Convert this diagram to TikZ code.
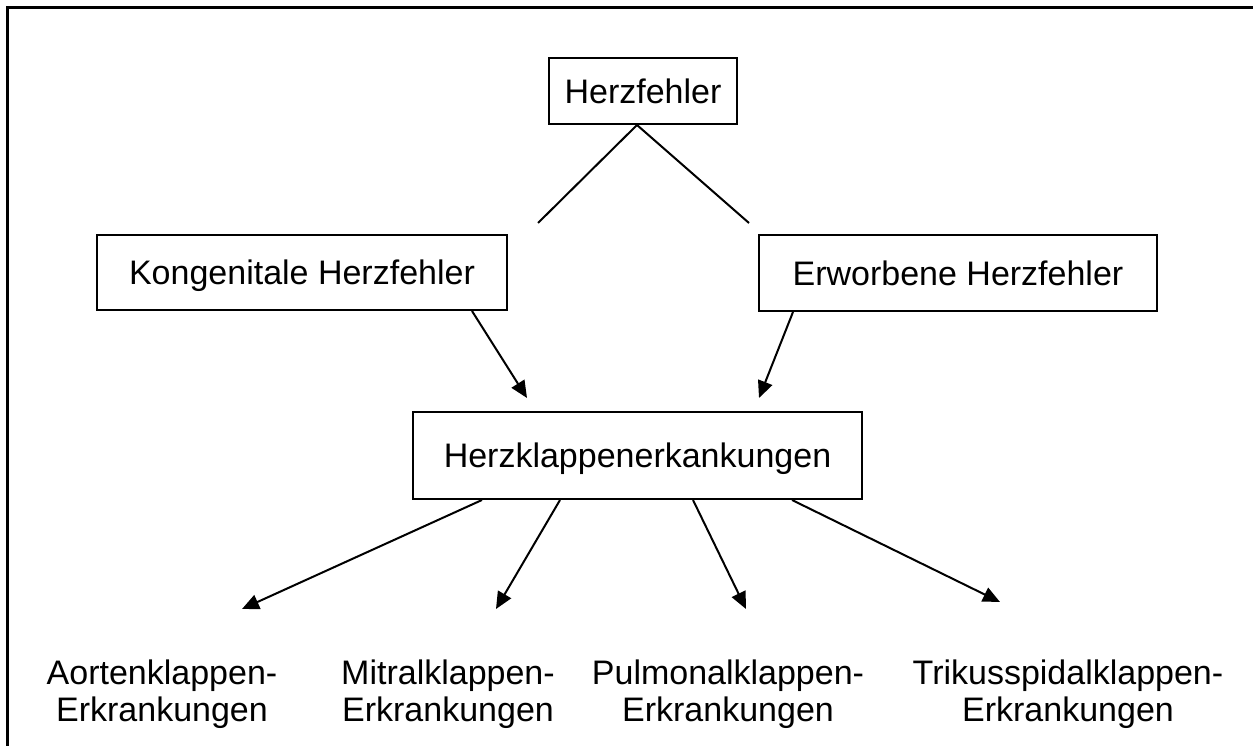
\documentclass[tikz,border=0pt]{standalone}
\usepackage{fontspec}
\setmainfont{Liberation Sans}
\usetikzlibrary{arrows.meta,calc}
\begin{document}
\begin{tikzpicture}[x=1pt,y=-1pt,
  txt/.style={font=\fontsize{34}{37}\selectfont},
  box/.style={txt,draw,line width=2pt,inner sep=0pt,text height=24.3pt,text depth=0pt},
  lbl/.style={txt,align=center,inner sep=0pt,anchor=north},
  conn/.style={line width=2pt},
  arr/.style={conn,-{Triangle[length=17pt,width=15pt]}}]
\useasboundingbox (0,0) rectangle (1253,746);
% frame (top and left edges only)
\draw[line width=3pt] (7,746) -- (7,8) -- (1253,8);
% boxes
\node[box,minimum width=188pt,minimum height=66pt] (hf) at (643,91) {Herzfehler};
\node[box,minimum width=410pt,minimum height=75pt] (kh) at (302,272.5) {Kongenitale Herzfehler};
\node[box,minimum width=398pt,minimum height=76pt] (eh) at (958,273) {Erworbene Herzfehler};
\node[box,minimum width=449pt,minimum height=87pt] (hk) at (637.5,455.5) {Herzklappenerkankungen};
% bottom labels
\node[lbl] (ak) at (162,660) {Aortenklappen-\\Erkrankungen};
\node[lbl] (mk) at (448,660) {Mitralklappen-\\Erkrankungen};
\node[lbl] (pk) at (728,660) {Pulmonalklappen-\\Erkrankungen};
\node[lbl] (tk) at (1068,660) {Trikusspidalklappen-\\Erkrankungen};
% free ends
\coordinate (apex) at ($(hf.south)+(-6,0)$);
\coordinate (lend) at (538,223);
\coordinate (rend) at (749,223);
\coordinate (ta) at (242,609);
\coordinate (tm) at (496,609);
\coordinate (tp) at (746,609);
\coordinate (tt) at (1000,602);
% connectors
\draw[conn] (lend) -- (apex) -- (rend);
\draw[arr] ($(kh.south)+(170,0)$) -- ($(hk.north)+(-110.5,-13)$);
\draw[arr] ($(eh.south)+(-165,0)$) -- ($(hk.north)+(121.5,-13)$);
\draw[arr] ($(hk.south)+(-155.5,0)$) -- (ta);
\draw[arr] ($(hk.south)+(-77.5,0)$) -- (tm);
\draw[arr] ($(hk.south)+(55.5,0)$) -- (tp);
\draw[arr] ($(hk.south)+(154.5,0)$) -- (tt);
\end{tikzpicture}
\end{document}
